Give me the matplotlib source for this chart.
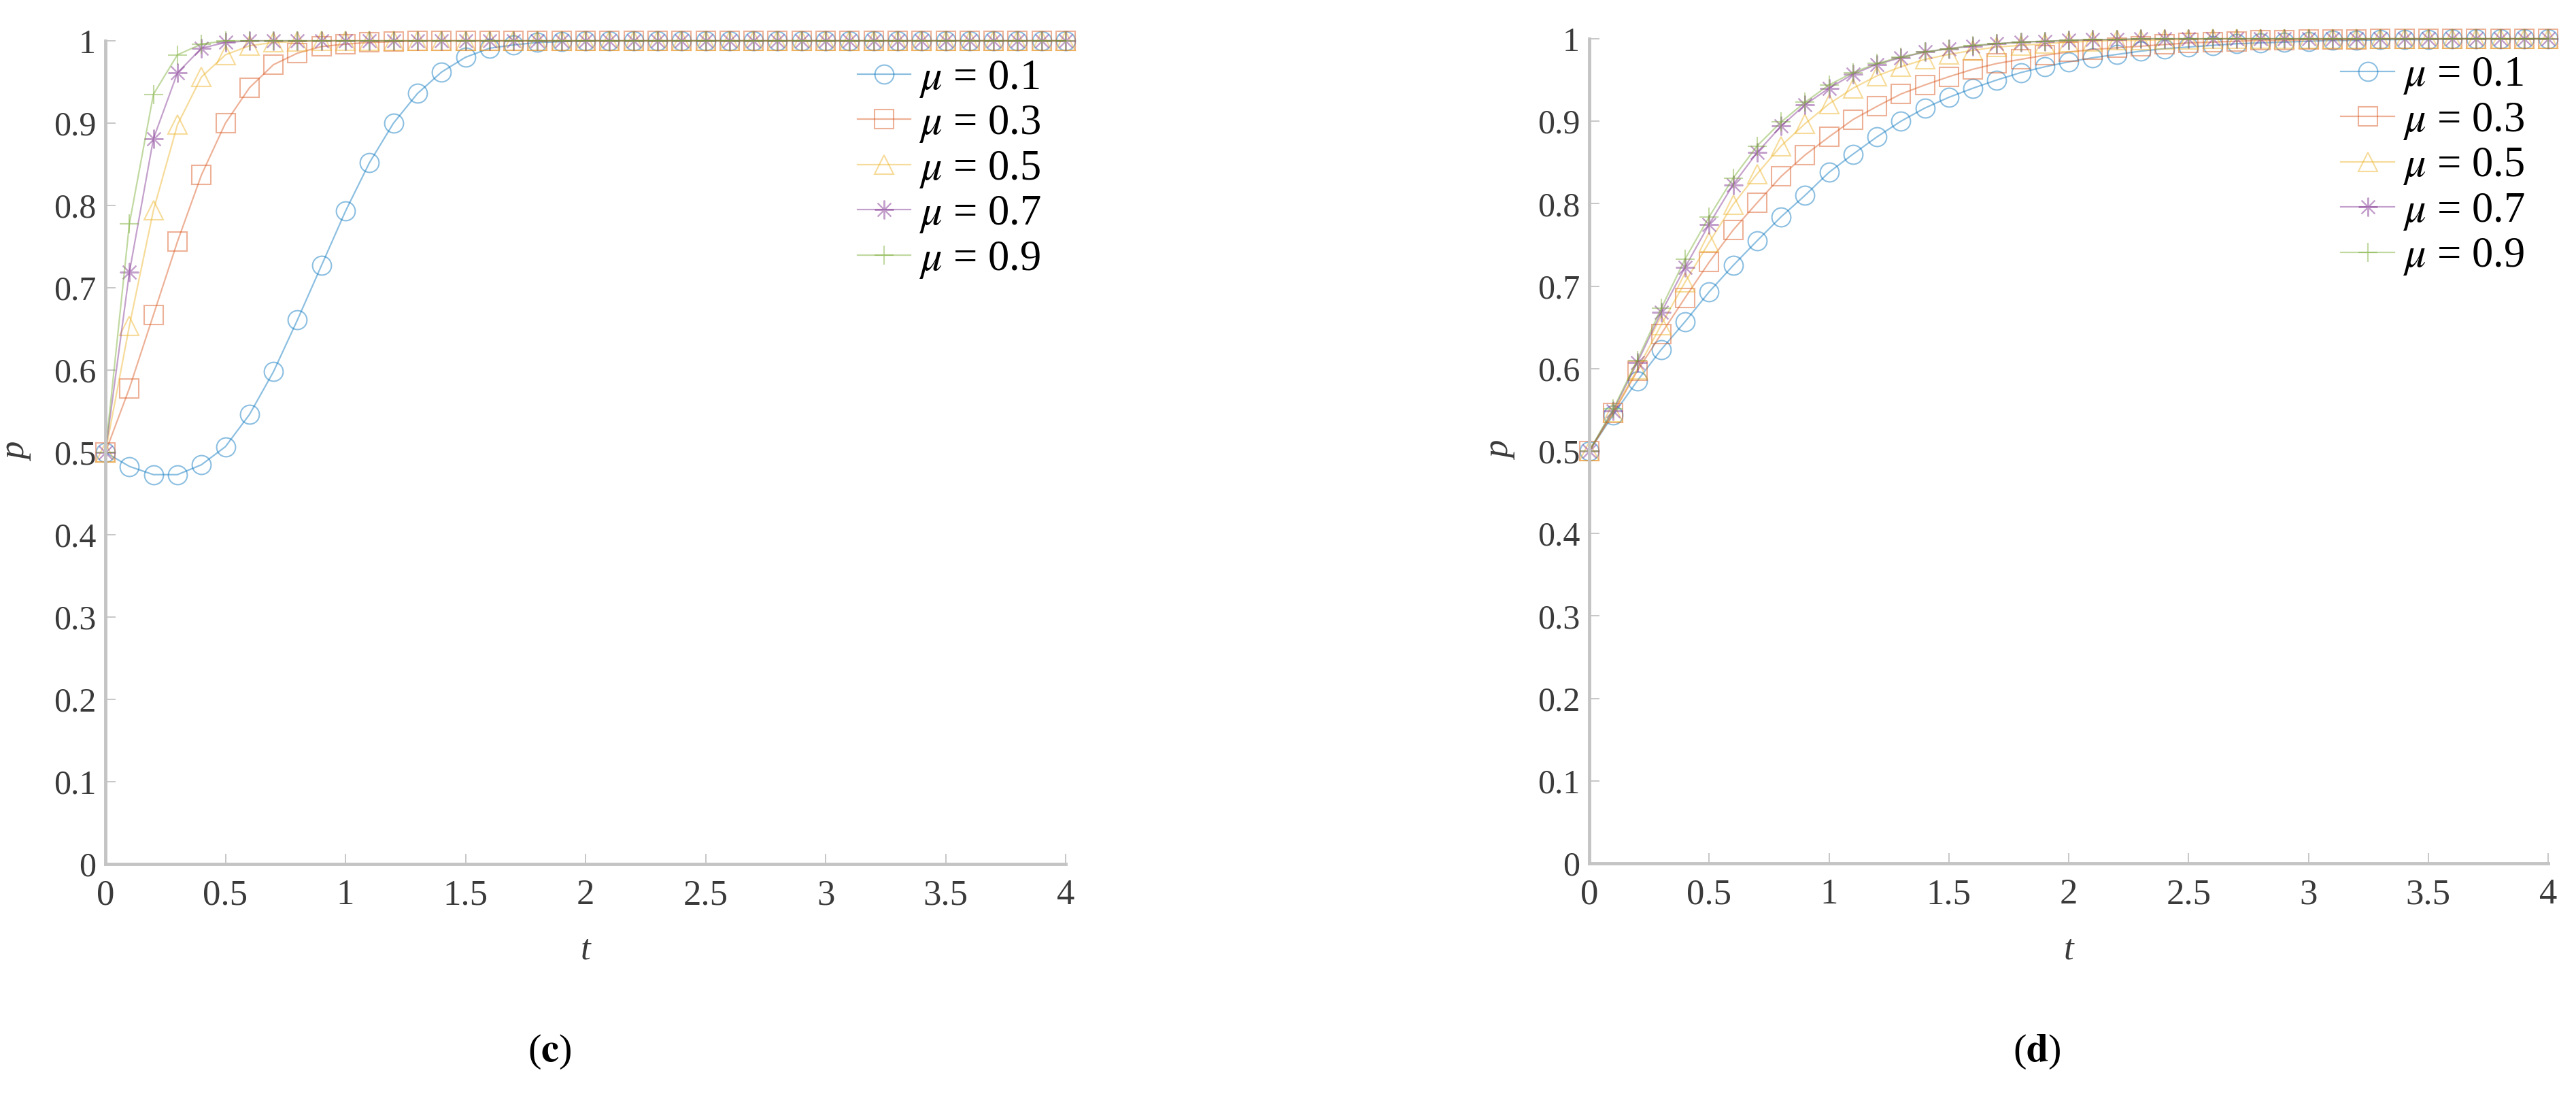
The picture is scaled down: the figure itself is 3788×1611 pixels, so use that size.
import numpy as np
import matplotlib
matplotlib.use('Agg')
import matplotlib.pyplot as plt

plt.rcParams['font.family'] = ['Liberation Serif', 'DejaVu Serif']
plt.rcParams['mathtext.fontset'] = 'stix'
SERIF = 'Liberation Serif'

# time grid (step 0.1)
t = [0.0, 0.1, 0.2, 0.3, 0.4, 0.5, 0.6, 0.7, 0.8, 0.9, 1.0,
     1.1, 1.2, 1.3, 1.4, 1.5, 1.6, 1.7, 1.8, 1.9, 2.0,
     2.1, 2.2, 2.3, 2.4, 2.5, 2.6, 2.7, 2.8, 2.9, 3.0,
     3.1, 3.2, 3.3, 3.4, 3.5, 3.6, 3.7, 3.8, 3.9, 4.0]

mu_labels = [r'$\mu$ = 0.1', r'$\mu$ = 0.3', r'$\mu$ = 0.5', r'$\mu$ = 0.7', r'$\mu$ = 0.9']

# ---- panel (c) ----
c_mu01 = [0.500, 0.483, 0.473, 0.473, 0.485, 0.507, 0.546, 0.598, 0.661, 0.727, 0.793,
          0.852, 0.900, 0.936, 0.962, 0.980, 0.991, 0.995, 0.998, 0.999, 1.000,
          1.000, 1.000, 1.000, 1.000, 1.000, 1.000, 1.000, 1.000, 1.000, 1.000,
          1.000, 1.000, 1.000, 1.000, 1.000, 1.000, 1.000, 1.000, 1.000, 1.000]
c_mu03 = [0.500, 0.578, 0.667, 0.756, 0.837, 0.900, 0.943, 0.971, 0.985, 0.993, 0.996,
          0.998, 0.999, 1.000, 1.000, 1.000, 1.000, 1.000, 1.000, 1.000, 1.000,
          1.000, 1.000, 1.000, 1.000, 1.000, 1.000, 1.000, 1.000, 1.000, 1.000,
          1.000, 1.000, 1.000, 1.000, 1.000, 1.000, 1.000, 1.000, 1.000, 1.000]
c_mu05 = [0.500, 0.654, 0.794, 0.898, 0.956, 0.983, 0.994, 0.998, 0.999, 1.000, 1.000,
          1.000, 1.000, 1.000, 1.000, 1.000, 1.000, 1.000, 1.000, 1.000, 1.000,
          1.000, 1.000, 1.000, 1.000, 1.000, 1.000, 1.000, 1.000, 1.000, 1.000,
          1.000, 1.000, 1.000, 1.000, 1.000, 1.000, 1.000, 1.000, 1.000, 1.000]
c_mu07 = [0.500, 0.719, 0.881, 0.961, 0.991, 0.998, 1.000, 1.000, 1.000, 1.000, 1.000,
          1.000, 1.000, 1.000, 1.000, 1.000, 1.000, 1.000, 1.000, 1.000, 1.000,
          1.000, 1.000, 1.000, 1.000, 1.000, 1.000, 1.000, 1.000, 1.000, 1.000,
          1.000, 1.000, 1.000, 1.000, 1.000, 1.000, 1.000, 1.000, 1.000, 1.000]
c_mu09 = [0.500, 0.778, 0.935, 0.983, 0.996, 1.000, 1.000, 1.000, 1.000, 1.000, 1.000,
          1.000, 1.000, 1.000, 1.000, 1.000, 1.000, 1.000, 1.000, 1.000, 1.000,
          1.000, 1.000, 1.000, 1.000, 1.000, 1.000, 1.000, 1.000, 1.000, 1.000,
          1.000, 1.000, 1.000, 1.000, 1.000, 1.000, 1.000, 1.000, 1.000, 1.000]

# ---- panel (d) ----
d_mu01 = [0.500, 0.544, 0.585, 0.623, 0.657, 0.693, 0.725, 0.755, 0.784, 0.810, 0.838,
          0.860, 0.881, 0.900, 0.916, 0.929, 0.940, 0.950, 0.959, 0.966, 0.972,
          0.977, 0.981, 0.985, 0.988, 0.990, 0.992, 0.994, 0.995, 0.996, 0.997,
          0.998, 0.998, 0.999, 0.999, 0.999, 1.000, 1.000, 1.000, 1.000, 1.000]
d_mu03 = [0.500, 0.546, 0.597, 0.642, 0.686, 0.729, 0.768, 0.801, 0.833, 0.859, 0.881,
          0.902, 0.918, 0.933, 0.944, 0.954, 0.963, 0.970, 0.975, 0.980, 0.984,
          0.987, 0.989, 0.991, 0.993, 0.995, 0.996, 0.997, 0.998, 0.998, 0.999,
          0.999, 0.999, 1.000, 1.000, 1.000, 1.000, 1.000, 1.000, 1.000, 1.000]
d_mu05 = [0.500, 0.547, 0.599, 0.653, 0.705, 0.753, 0.799, 0.836, 0.870, 0.897, 0.921,
          0.940, 0.955, 0.966, 0.975, 0.981, 0.986, 0.990, 0.992, 0.994, 0.996,
          0.997, 0.998, 0.998, 0.999, 0.999, 1.000, 1.000, 1.000, 1.000, 1.000,
          1.000, 1.000, 1.000, 1.000, 1.000, 1.000, 1.000, 1.000, 1.000, 1.000]
d_mu07 = [0.500, 0.549, 0.607, 0.668, 0.723, 0.775, 0.823, 0.862, 0.894, 0.920, 0.940,
          0.957, 0.969, 0.977, 0.984, 0.988, 0.991, 0.994, 0.996, 0.997, 0.998,
          0.999, 0.999, 1.000, 1.000, 1.000, 1.000, 1.000, 1.000, 1.000, 1.000,
          1.000, 1.000, 1.000, 1.000, 1.000, 1.000, 1.000, 1.000, 1.000, 1.000]
d_mu09 = [0.500, 0.551, 0.610, 0.673, 0.733, 0.784, 0.831, 0.870, 0.899, 0.923, 0.944,
          0.959, 0.970, 0.978, 0.984, 0.988, 0.992, 0.994, 0.996, 0.997, 0.998,
          0.999, 0.999, 1.000, 1.000, 1.000, 1.000, 1.000, 1.000, 1.000, 1.000,
          1.000, 1.000, 1.000, 1.000, 1.000, 1.000, 1.000, 1.000, 1.000, 1.000]

yticks = [0, 0.1, 0.2, 0.3, 0.4, 0.5, 0.6, 0.7, 0.8, 0.9, 1]
ytick_labels = ['0', '0.1', '0.2', '0.3', '0.4', '0.5', '0.6', '0.7', '0.8', '0.9', '1']
xticks = [0, 0.5, 1, 1.5, 2, 2.5, 3, 3.5, 4]
xtick_labels = ['0', '0.5', '1', '1.5', '2', '2.5', '3', '3.5', '4']

# MATLAB default colour order, drawn semi-transparent
colors = ['#0072BD', '#D95319', '#EDB120', '#7E2F8E', '#77AC30']
markers = ['o', 's', '^', (8, 2, 0), '+']

W, H = 3788, 1611
fig = plt.figure(figsize=(W / 100, H / 100), dpi=100)
ax_c = fig.add_axes([155 / W, 1 - 1270 / H, 1412 / W, 1210 / H])
ax_d = fig.add_axes([2337 / W, 1 - 1269 / H, 1410 / W, 1212 / H])


def draw_panel(ax, series, legend_x, legend_y):
    for ys, col, mk, lab in zip(series, colors, markers, mu_labels):
        ax.plot(t, ys, color=col, alpha=0.45, lw=1.6, marker=mk,
                markersize=20, markerfacecolor='none', markeredgewidth=1.5,
                label=lab, clip_on=False)
    ax.set_xlim(0, 4)
    ax.set_ylim(0, 1)
    ax.set_xticks(xticks)
    ax.set_xticklabels(xtick_labels, fontfamily=SERIF)
    ax.set_yticks(yticks)
    ax.set_yticklabels(ytick_labels, fontfamily=SERIF)
    for side in ['top', 'right']:
        ax.spines[side].set_visible(False)
    for side in ['left', 'bottom']:
        ax.spines[side].set_color('#c4c4c4')
        ax.spines[side].set_linewidth(3.5)
    ax.tick_params(axis='both', direction='in', length=11, width=1.2,
                   color='#bdbdbd', labelcolor='#3a3a3a', labelsize=36)
    ax.tick_params(axis='x', labelsize=38, pad=16)
    ax.tick_params(axis='y', pad=10)
    ax.set_xlabel('t', fontsize=38, style='italic', color='#3a3a3a', fontfamily=SERIF)
    ax.set_ylabel('p', fontsize=38, style='italic', color='#3a3a3a', fontfamily=SERIF)
    ax.xaxis.set_label_coords(0.5, -0.085)
    ax.yaxis.set_label_coords(-0.075, 0.5)
    leg = ax.legend(loc='upper left', bbox_to_anchor=(legend_x, legend_y),
                    frameon=False, prop={'family': SERIF, 'size': 45},
                    handlelength=1.25, handletextpad=0.2, labelspacing=0.12,
                    borderpad=0, borderaxespad=0)
    for txt in leg.get_texts():
        txt.set_color('black')


draw_panel(ax_c, [c_mu01, c_mu03, c_mu05, c_mu07, c_mu09], 0.783, 0.978)
draw_panel(ax_d, [d_mu01, d_mu03, d_mu05, d_mu07, d_mu09], 0.784, 0.979)

fig.text(808 / W, 1 - 1546 / H, r'($\mathbf{c}$)', fontsize=42, ha='center', va='center')
fig.text(2995 / W, 1 - 1546 / H, r'($\mathbf{d}$)', fontsize=42, ha='center', va='center')

fig.savefig('out.png', dpi=100)
